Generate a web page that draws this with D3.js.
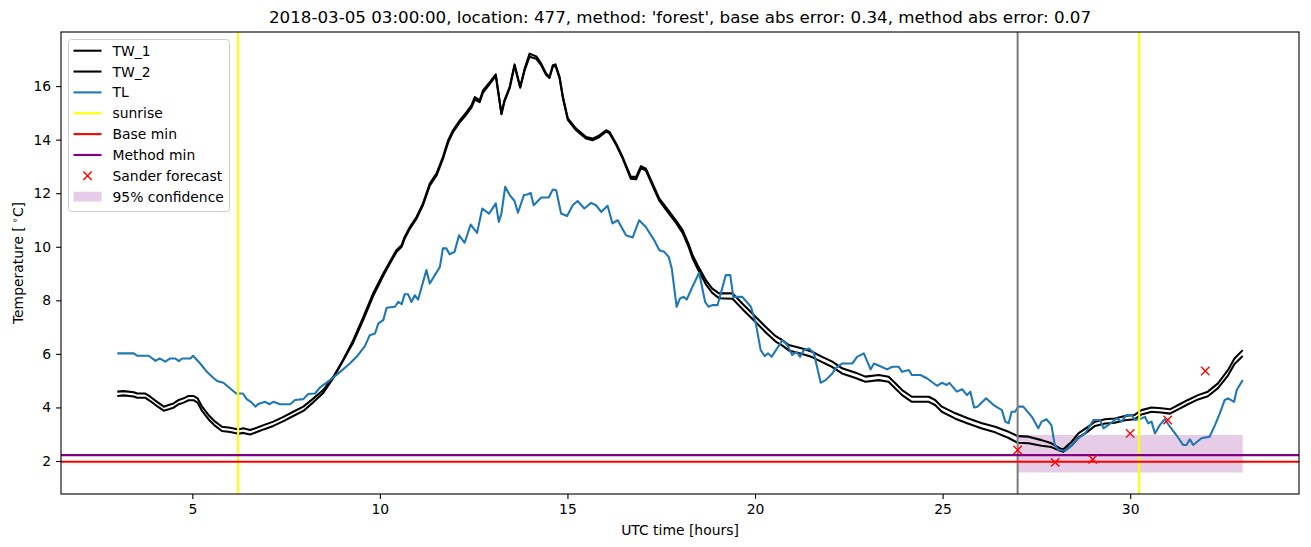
<!DOCTYPE html>
<html><head><meta charset="utf-8">
<script src="https://cdn.jsdelivr.net/npm/d3@7"></script>
<style>body{margin:0;background:#fff}svg{display:block}text{font-family:"DejaVu Sans",sans-serif;fill:#000}</style>
</head><body>
<svg id="c" width="1311" height="547"></svg>
<script>
const titleText = "2018-03-05 03:00:00, location: 477, method: 'forest', base abs error: 0.34, method abs error: 0.07";
const xTicks = [5, 10, 15, 20, 25, 30];
const yTicks = [2, 4, 6, 8, 10, 12, 14, 16];

const twHours = [3.0,3.17,3.44,3.53,3.75,3.88,4.06,4.24,4.37,4.50,4.64,4.77,4.90,5.03,5.14,5.26,5.43,5.61,5.79,6.01,6.23,6.36,6.54,6.72,6.90,7.16,7.43,7.69,7.96,8.23,8.49,8.76,9.02,9.29,9.56,9.82,10.09,10.27,10.44,10.58,10.66,10.80,10.98,11.15,11.33,11.51,11.68,11.82,11.95,12.13,12.31,12.44,12.53,12.66,12.75,12.93,13.09,13.24,13.32,13.46,13.59,13.74,13.86,13.99,14.17,14.30,14.43,14.52,14.61,14.68,14.79,14.88,15.01,15.23,15.50,15.67,15.85,16.03,16.12,16.30,16.47,16.69,16.83,16.96,17.09,17.27,17.45,17.62,17.89,18.07,18.24,18.33,18.47,18.69,18.86,19.04,19.40,19.66,20.02,20.28,20.55,20.73,20.90,21.26,21.52,21.79,22.06,22.32,22.68,22.94,23.30,23.56,23.74,23.92,24.18,24.63,24.80,24.98,25.34,25.69,26.05,26.40,26.76,27.00,27.29,27.64,27.90,28.13,28.22,28.44,28.62,28.88,29.06,29.33,29.59,29.86,30.12,30.30,30.57,30.83,31.06,31.28,31.54,31.81,32.07,32.34,32.61,32.78,33.00];
const tw1 = [4.59,4.61,4.57,4.52,4.52,4.40,4.21,4.03,4.09,4.15,4.28,4.34,4.43,4.43,4.34,4.03,3.72,3.47,3.28,3.24,3.18,3.22,3.16,3.24,3.34,3.47,3.65,3.84,4.03,4.34,4.65,5.15,5.77,6.51,7.38,8.26,9.00,9.45,9.87,10.06,10.37,10.74,11.12,11.62,12.36,12.74,13.35,13.98,14.35,14.72,15.03,15.28,15.59,15.47,15.84,16.15,16.44,14.97,15.47,15.97,16.81,15.97,16.65,17.21,17.11,16.84,16.47,16.34,16.78,16.81,16.34,15.59,14.79,14.41,14.10,14.04,14.16,14.35,14.29,13.85,13.35,12.61,12.61,13.01,12.92,12.36,11.80,11.49,10.99,10.62,10.06,9.70,9.31,8.75,8.44,8.26,8.26,7.88,7.38,7.01,6.66,6.51,6.33,6.20,6.08,5.89,5.71,5.46,5.30,5.15,5.21,5.15,4.90,4.65,4.40,4.40,4.28,4.03,3.78,3.59,3.41,3.28,3.09,2.93,2.91,2.78,2.66,2.47,2.44,2.72,3.03,3.28,3.47,3.56,3.59,3.68,3.72,3.90,4.00,3.97,3.93,4.09,4.28,4.46,4.59,4.90,5.40,5.83,6.14];
const tw2 = [4.43,4.45,4.41,4.36,4.36,4.24,4.05,3.88,3.93,3.99,4.12,4.18,4.27,4.27,4.18,3.87,3.56,3.31,3.12,3.08,3.02,3.05,2.99,3.08,3.18,3.31,3.49,3.68,3.87,4.20,4.54,5.10,5.75,6.43,7.28,8.16,8.92,9.38,9.80,10.00,10.30,10.68,11.06,11.56,12.28,12.66,13.28,13.90,14.28,14.65,14.95,15.20,15.50,15.40,15.76,16.08,16.38,14.95,15.42,15.92,16.76,15.94,16.60,17.10,17.02,16.78,16.42,16.30,16.72,16.76,16.30,15.54,14.74,14.35,14.04,13.98,14.10,14.30,14.24,13.80,13.30,12.54,12.52,12.94,12.85,12.28,11.72,11.40,10.90,10.52,9.96,9.59,9.18,8.60,8.28,8.08,8.06,7.68,7.18,6.81,6.46,6.31,6.13,6.00,5.88,5.69,5.51,5.27,5.10,4.96,5.02,4.96,4.71,4.46,4.21,4.21,4.09,3.84,3.58,3.39,3.21,3.07,2.86,2.68,2.66,2.57,2.52,2.38,2.35,2.58,2.87,3.11,3.31,3.40,3.43,3.52,3.56,3.74,3.84,3.81,3.77,3.93,4.12,4.30,4.42,4.72,5.20,5.62,5.92];

const tlHours = [3.00,3.44,3.53,3.84,4.02,4.13,4.28,4.41,4.55,4.64,4.73,4.95,5.02,5.21,5.39,5.57,5.66,5.83,6.01,6.17,6.35,6.45,6.56,6.68,6.76,6.94,7.06,7.16,7.34,7.61,7.74,7.96,8.09,8.27,8.40,8.67,8.94,9.20,9.38,9.60,9.73,9.87,9.96,10.09,10.18,10.40,10.49,10.58,10.66,10.75,10.84,10.93,11.02,11.24,11.33,11.60,11.68,11.77,11.86,11.99,12.11,12.26,12.42,12.59,12.73,12.91,13.09,13.17,13.24,13.34,13.46,13.59,13.68,13.84,13.93,14.02,14.10,14.30,14.50,14.61,14.70,14.83,14.99,15.14,15.27,15.45,15.63,15.76,15.90,16.07,16.20,16.34,16.56,16.74,16.91,17.09,17.31,17.45,17.58,17.70,17.78,17.91,18.00,18.09,18.18,18.33,18.51,18.67,18.76,18.86,19.00,19.22,19.34,19.42,19.66,19.89,20.02,20.15,20.26,20.35,20.44,20.73,20.86,20.99,21.10,21.20,21.30,21.44,21.57,21.75,21.88,22.06,22.15,22.32,22.59,22.72,22.90,23.08,23.17,23.34,23.52,23.66,23.83,23.92,24.10,24.18,24.41,24.58,24.85,24.98,25.11,25.18,25.38,25.52,25.65,25.74,25.84,25.93,26.16,26.35,26.58,26.67,26.76,26.84,26.93,27.02,27.15,27.38,27.55,27.64,27.77,27.90,27.99,28.09,28.26,28.40,28.62,28.80,29.02,29.20,29.29,29.50,29.64,29.77,29.90,30.04,30.13,30.30,30.39,30.48,30.57,30.66,30.79,30.92,31.06,31.23,31.41,31.50,31.59,31.68,31.90,32.12,32.26,32.39,32.52,32.61,32.77,32.84,33.00];
const tl = [6.02,6.02,5.93,5.93,5.74,5.83,5.71,5.83,5.83,5.73,5.83,5.83,5.93,5.64,5.33,5.09,4.99,4.92,4.71,4.52,4.52,4.31,4.21,4.03,4.13,4.21,4.12,4.21,4.12,4.12,4.28,4.31,4.50,4.52,4.74,5.02,5.33,5.64,5.89,6.29,6.70,6.76,7.14,7.26,7.72,7.76,7.94,7.86,8.23,8.23,7.94,8.19,8.03,9.13,8.63,9.25,9.94,9.94,9.72,9.81,10.43,10.15,10.83,10.52,11.43,11.24,11.62,10.93,11.24,12.24,11.93,11.71,11.27,11.93,11.95,12.01,11.55,11.84,11.84,12.14,12.11,11.24,11.15,11.55,11.71,11.43,11.64,11.55,11.30,11.53,10.87,10.99,10.43,10.35,10.99,10.74,10.25,9.87,9.81,9.62,9.19,7.76,8.07,8.13,8.03,8.50,9.03,7.94,7.76,7.82,7.82,8.94,8.94,8.13,8.13,7.76,7.14,6.14,5.92,6.02,5.89,6.51,6.33,5.96,6.08,5.89,6.14,6.20,6.02,4.92,5.02,5.27,5.46,5.64,5.64,5.89,6.02,5.42,5.64,5.54,5.42,5.52,5.52,5.33,5.40,5.21,5.21,5.09,4.81,4.92,4.84,4.92,4.59,4.68,4.46,4.59,4.00,4.03,4.34,4.10,3.90,3.47,3.41,3.84,3.84,4.03,4.03,3.65,3.22,3.47,3.56,3.34,2.60,2.41,2.38,2.53,2.85,3.03,3.53,3.53,3.22,3.43,3.59,3.47,3.72,3.72,3.53,3.59,3.65,3.41,3.47,3.03,3.34,3.56,3.28,2.97,2.60,2.60,2.81,2.60,2.85,2.91,3.34,3.78,4.28,4.34,4.21,4.65,5.02];

const sunriseHours = [6.22, 30.24];
const nowHour = [27.0];
const baseMin = [1.97];
const methodMin = [2.22];
const sanderHours = [27, 28, 29, 30, 31, 32];
const sanderValues = [2.41, 1.95, 2.06, 3.03, 3.53, 5.36];
const confHours = [27, 33];
const confLow = [1.57, 1.57];
const confHigh = [2.97, 2.97];

const legendLabels = ["TW_1", "TW_2", "TL", "sunrise", "Base min", "Method min", "Sander forecast", "95% confidence"];

const svg = d3.select("#c");
const L = 61, R = 1299, T = 32, B = 494;
const x = d3.scaleLinear().domain([1.5, 34.5]).range([L, R]);
const y = d3.scaleLinear().domain([0.768, 18.02]).range([B, T]);

svg.append("defs").append("clipPath").attr("id", "clip")
  .append("rect").attr("x", L).attr("y", T).attr("width", R - L).attr("height", B - T);
const plot = svg.append("g").attr("clip-path", "url(#clip)");

const line = d3.line().x(d => x(d[0])).y(d => y(d[1]));
const lw = 2.08;

// Confidence band
plot.append("path")
  .datum(confHours.map((h, i) => [h, confLow[i], confHigh[i]]))
  .attr("d", d3.area().x(d => x(d[0])).y0(d => y(d[1])).y1(d => y(d[2])))
  .attr("fill", "purple").attr("fill-opacity", 0.2);

plot.append("path").datum(twHours.map((h, i) => [h, tw1[i]])).attr("d", line)
  .attr("fill", "none").attr("stroke", "black").attr("stroke-width", lw).attr("stroke-linejoin", "round");
plot.append("path").datum(twHours.map((h, i) => [h, tw2[i]])).attr("d", line)
  .attr("fill", "none").attr("stroke", "black").attr("stroke-width", lw).attr("stroke-linejoin", "round");
plot.append("path").datum(tlHours.map((h, i) => [h, tl[i]])).attr("d", line)
  .attr("fill", "none").attr("stroke", "#1f77b4").attr("stroke-width", lw).attr("stroke-linejoin", "round");

sunriseHours.forEach(h => plot.append("line").attr("x1", x(h)).attr("x2", x(h)).attr("y1", T).attr("y2", B)
  .attr("stroke", "yellow").attr("stroke-width", lw));
nowHour.forEach(h => plot.append("line").attr("x1", x(h)).attr("x2", x(h)).attr("y1", T).attr("y2", B)
  .attr("stroke", "grey").attr("stroke-width", lw));
baseMin.forEach(v => plot.append("line").attr("x1", L).attr("x2", R).attr("y1", y(v)).attr("y2", y(v))
  .attr("stroke", "red").attr("stroke-width", lw));
methodMin.forEach(v => plot.append("line").attr("x1", L).attr("x2", R).attr("y1", y(v)).attr("y2", y(v))
  .attr("stroke", "purple").attr("stroke-width", lw));

const xm = 4.2;
function cross(g, cx, cy) {
  g.append("path").attr("d", `M${cx - xm},${cy - xm}L${cx + xm},${cy + xm}M${cx - xm},${cy + xm}L${cx + xm},${cy - xm}`)
    .attr("stroke", "red").attr("stroke-width", 1.4).attr("fill", "none");
}
sanderHours.forEach((h, i) => cross(plot, x(h), y(sanderValues[i])));

// Axes
const xAxis = svg.append("g").attr("transform", `translate(0,${B})`)
  .call(d3.axisBottom(x).tickValues(xTicks).tickSize(4.9).tickPadding(4.9).tickFormat(d3.format("d")));
const yAxis = svg.append("g").attr("transform", `translate(${L},0)`)
  .call(d3.axisLeft(y).tickValues(yTicks).tickSize(4.9).tickPadding(4.9).tickFormat(d3.format("d")));
[xAxis, yAxis].forEach(a => {
  a.select(".domain").remove();
  a.selectAll(".tick line").attr("stroke", "black").attr("stroke-width", 1.1);
  a.selectAll(".tick text").attr("font-size", 13.9).attr("font-family", "DejaVu Sans");
});
svg.append("rect").attr("x", L).attr("y", T).attr("width", R - L).attr("height", B - T)
  .attr("fill", "none").attr("stroke", "black").attr("stroke-width", 1.1);

svg.append("text").attr("x", (L + R) / 2).attr("y", 23).attr("text-anchor", "middle")
  .attr("font-size", 16.7).text(titleText);
svg.append("text").attr("x", (L + R) / 2).attr("y", 535).attr("text-anchor", "middle")
  .attr("font-size", 13.9).text("UTC time [hours]");
const yl = svg.append("text").attr("transform", `translate(23,${(T + B) / 2}) rotate(-90)`)
  .attr("text-anchor", "middle").attr("font-size", 13.9);
yl.append("tspan").text("Temperature [");
yl.append("tspan").attr("dy", -5).attr("font-size", 9.7).text(" ∘");
yl.append("tspan").attr("dy", 5).text("C]");

// Legend
const lg = svg.append("g");
lg.append("rect").attr("x", 68.5).attr("y", 39.5).attr("width", 161).attr("height", 172).attr("rx", 3)
  .attr("fill", "white").attr("fill-opacity", 0.8).attr("stroke", "#cccccc").attr("stroke-width", 1);
const legendStyles = [
  {type: "line", color: "black"}, {type: "line", color: "black"}, {type: "line", color: "#1f77b4"},
  {type: "line", color: "yellow"}, {type: "line", color: "red"}, {type: "line", color: "purple"},
  {type: "cross"}, {type: "patch"}
];
legendLabels.forEach((lab, i) => {
  const cy = 50.7 + i * 20.85;
  const st = legendStyles[i];
  if (st.type === "line") {
    lg.append("line").attr("x1", 73.5).attr("x2", 101.5).attr("y1", cy).attr("y2", cy)
      .attr("stroke", st.color).attr("stroke-width", lw);
  } else if (st.type === "cross") {
    cross(lg, 87.5, cy);
  } else {
    lg.append("rect").attr("x", 73.5).attr("y", cy - 4.9).attr("width", 28).attr("height", 9.8)
      .attr("fill", "purple").attr("fill-opacity", 0.2);
  }
  lg.append("text").attr("x", 112.5).attr("y", cy + 5).attr("font-size", 13.9).text(lab);
});
</script>
</body></html>
